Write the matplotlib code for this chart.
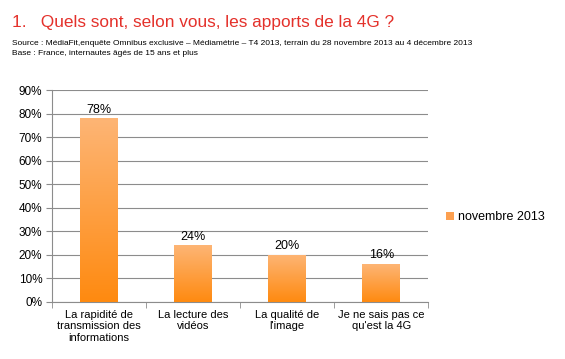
import numpy as np
import matplotlib.pyplot as plt
from matplotlib.colors import LinearSegmentedColormap
from matplotlib.patches import Patch

categories = ["La rapidité de\ntransmission des\ninformations",
              "La lecture des\nvidéos",
              "La qualité de\nl'image",
              "Je ne sais pas ce\nqu'est la 4G"]
values = [78, 24, 20, 16]
yticks = [0, 10, 20, 30, 40, 50, 60, 70, 80, 90]
series_name = "novembre 2013"

plt.rcParams["font.family"] = ["Liberation Sans", "DejaVu Sans"]

fig = plt.figure(figsize=(5.65, 3.59), dpi=100)
fig.text(0.021, 0.925, "1.   Quels sont, selon vous, les apports de la 4G ?",
         color="#E4312B", fontsize=12.4)
fig.text(0.021, 0.875, "Source : MédiaFit,enquête Omnibus exclusive – Médiamétrie – T4 2013, "
         "terrain du 28 novembre 2013 au 4 décembre 2013", fontsize=6.0)
fig.text(0.021, 0.846, "Base : France, internautes âgés de 15 ans et plus", fontsize=6.0)

ax = fig.add_axes([0.092, 0.159, 0.666, 0.59])
x = np.arange(len(categories))
cmap = LinearSegmentedColormap.from_list("grad", ["#FF8A10", "#FDB575"])
grad = np.linspace(0, 1, 256).reshape(-1, 1)
bars = ax.bar(x, values, width=0.4, color="none", edgecolor="none", zorder=3)
for b in bars:
    x0, y0 = b.get_x(), b.get_y()
    im = ax.imshow(grad, cmap=cmap, origin="lower", aspect="auto",
                   extent=[x0, x0 + b.get_width(), y0, y0 + b.get_height()], zorder=3)
    im.set_clip_path(b)
    ax.text(b.get_x() + b.get_width() / 2, b.get_height() + 1.2, f"{int(b.get_height())}%",
            ha="center", va="bottom", fontsize=9)

ax.set_xlim(-0.5, len(categories) - 0.5)
ax.set_ylim(0, 90)
ax.set_yticks(yticks)
ax.set_yticklabels([f"{t}%" for t in yticks], fontsize=8.5)
ax.yaxis.grid(True, color="#8C8C8C", linewidth=0.8, zorder=0)
ax.set_axisbelow(True)
ax.set_xticks(x)
ax.set_xticklabels(categories, fontsize=8, linespacing=1.15)
ax.tick_params(axis="x", length=0, pad=6)
ax.set_xticks(np.arange(-0.5, len(categories)), minor=True)
ax.tick_params(axis="x", which="minor", length=4, color="#8C8C8C")
ax.tick_params(axis="y", length=4, color="#8C8C8C", pad=3)
for s in ["top", "right"]:
    ax.spines[s].set_visible(False)
for s in ["left", "bottom"]:
    ax.spines[s].set_color("#8C8C8C")

leg = fig.legend(handles=[Patch(facecolor="#FDA050", label=series_name)],
                 loc="center left", bbox_to_anchor=(0.77, 0.395), frameon=False,
                 fontsize=9, handlelength=0.6, handleheight=0.6, handletextpad=0.3)

fig.savefig("out.png", dpi=100)
